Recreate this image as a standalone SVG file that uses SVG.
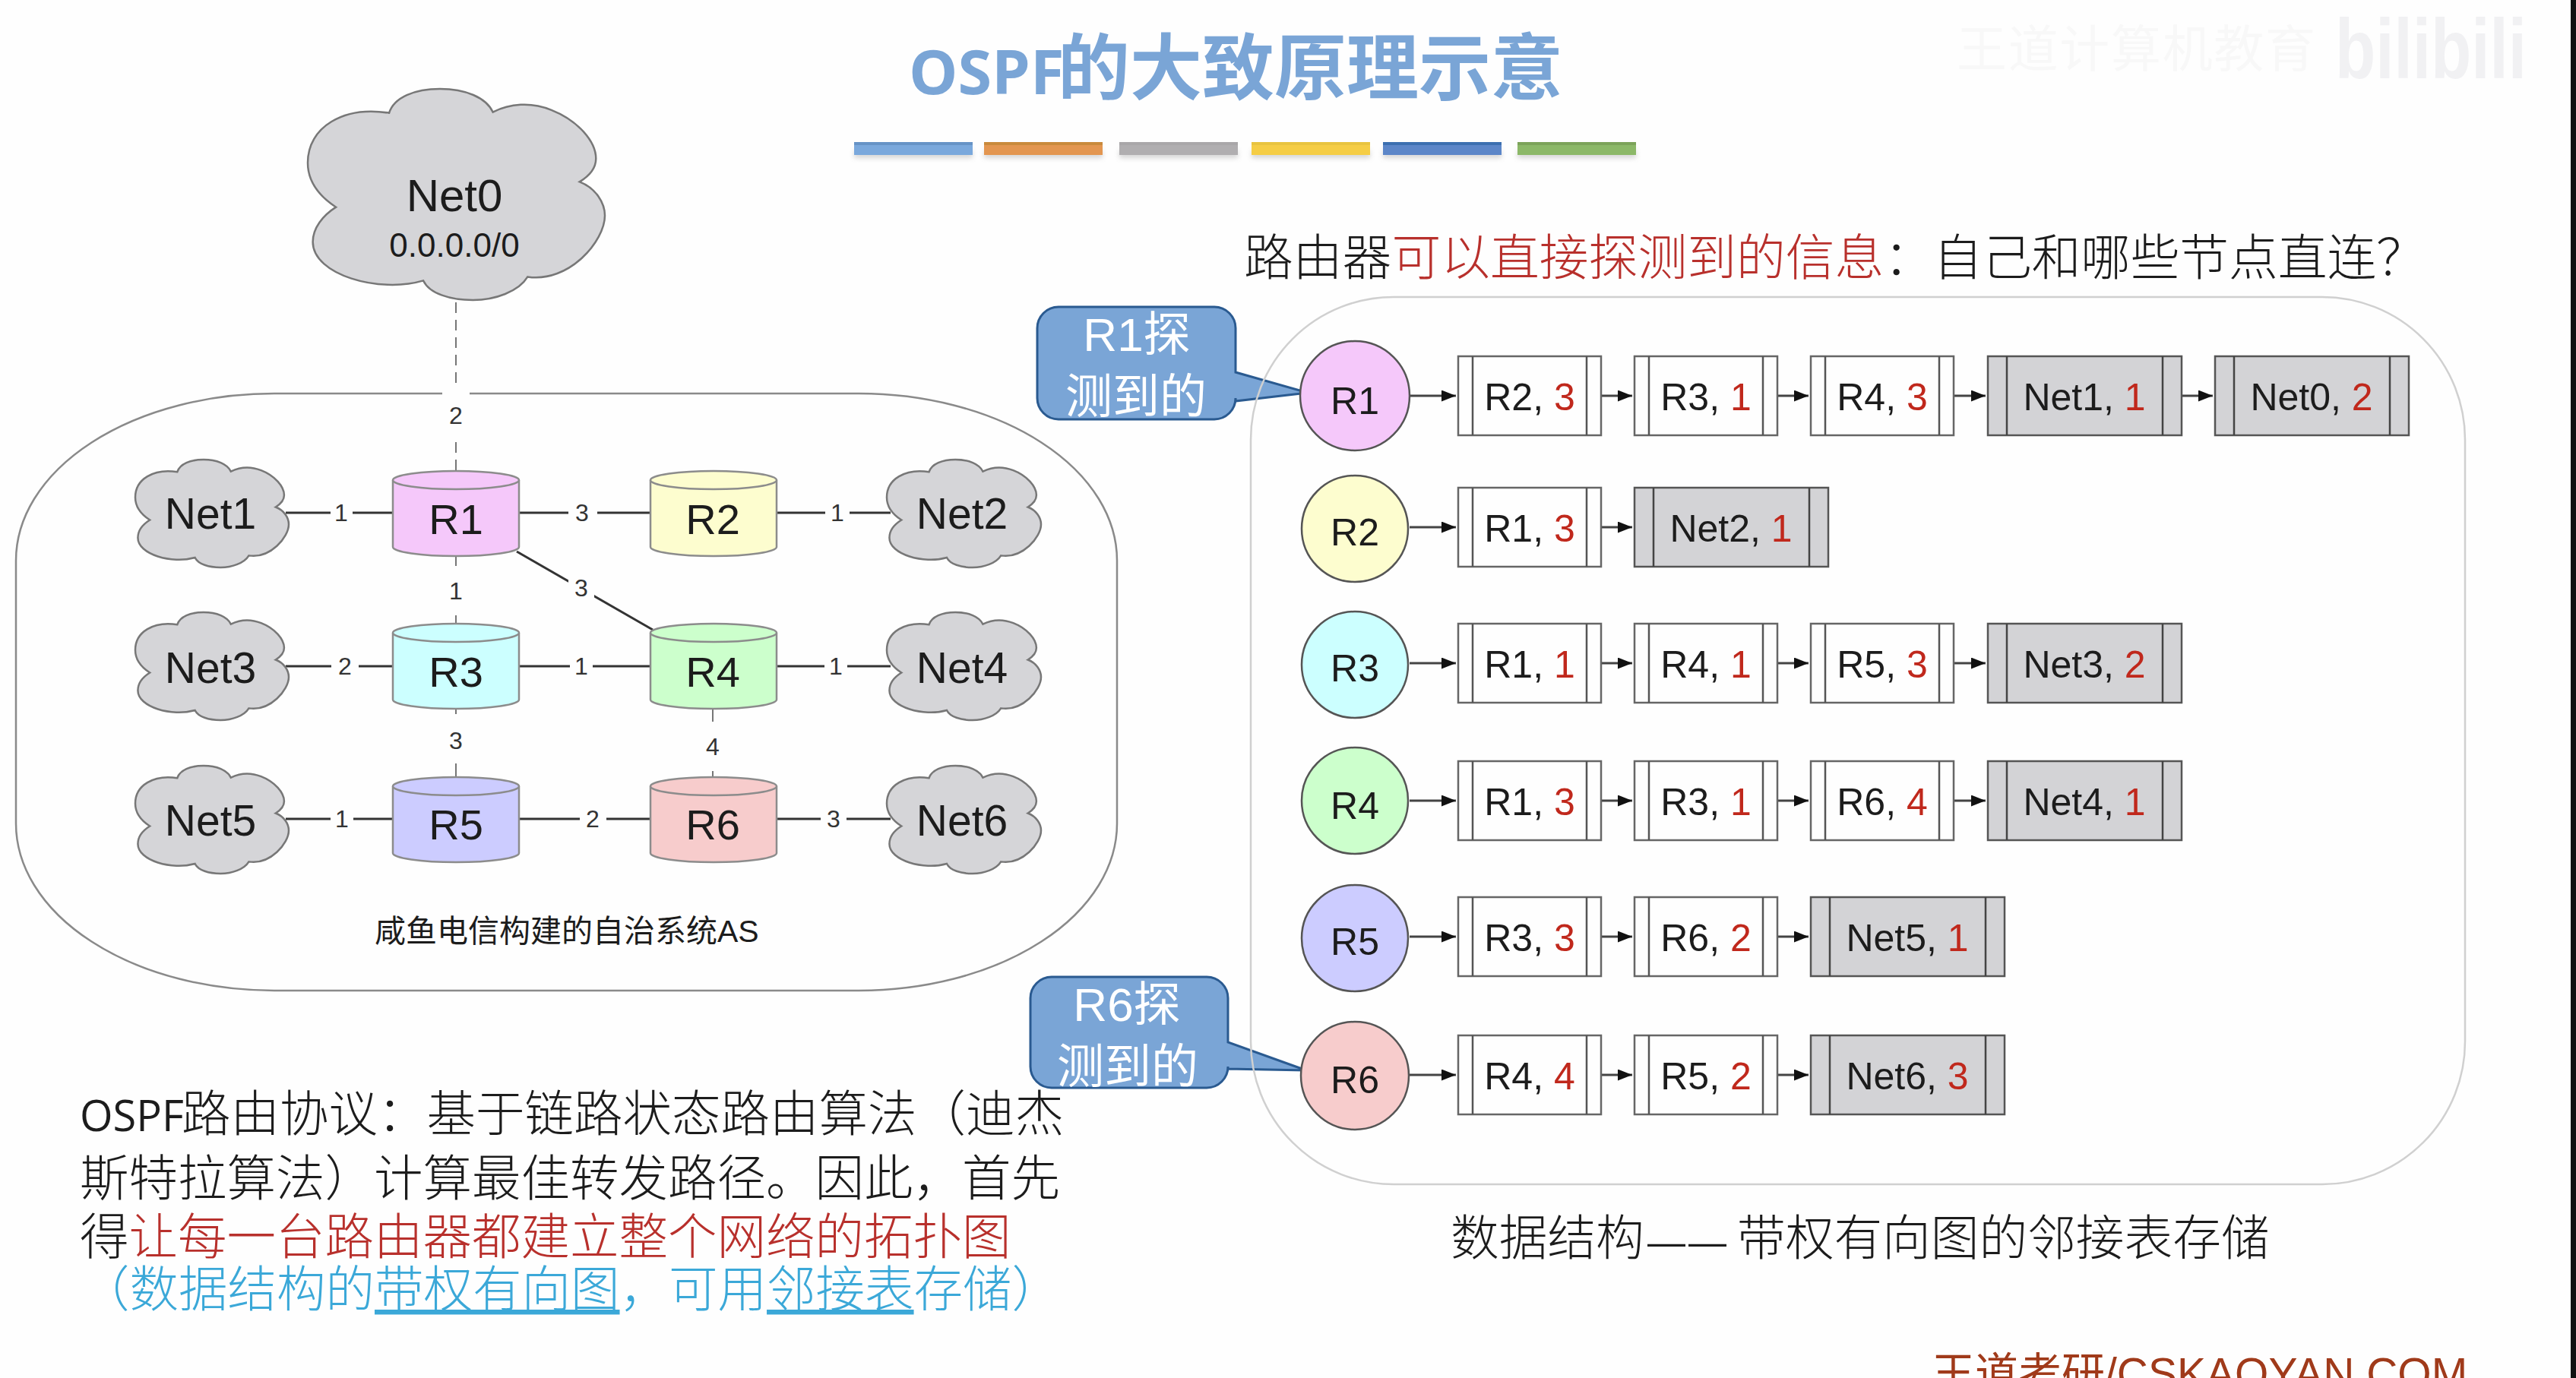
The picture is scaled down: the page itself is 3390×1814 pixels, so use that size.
<svg xmlns="http://www.w3.org/2000/svg" width="3390" height="1814" viewBox="0 0 3390 1814">
<style>
text{font-family:"Liberation Sans","Noto Sans CJK SC",sans-serif;fill:#1c1c1c}
.cloud{fill:#d5d5d8;stroke:#777;stroke-width:2.5}
.cy{stroke:#8c8c8c;stroke-width:2.5}
.net{font-size:57px;text-anchor:middle}
.rt{font-size:56px;text-anchor:middle}
.ct{font-size:50px;text-anchor:middle}
.lb{font-size:50px;text-anchor:middle}
.red{fill:#c0281c}
.el{font-size:32px;text-anchor:middle;fill:#333}
.gap{fill:#fefefe}
.link{stroke:#333;stroke-width:3;fill:none}
.thin{stroke:#555;stroke-width:1.6;fill:none}
.arr{stroke:#444;stroke-width:3;fill:none;marker-end:url(#ah)}
.circ{stroke:#555;stroke-width:2.5}
.wb{fill:#fefefe;stroke:#666;stroke-width:2.5}
.gb{fill:#d3d3d6;stroke:#555;stroke-width:2.5}
.call{fill:#7aa5d6;stroke:#2a5a90;stroke-width:3}
.callt{fill:#fff;font-size:62px;text-anchor:middle}
.body{font-size:64.5px;font-weight:300}
.r2{fill:#b8302c}
.b2{fill:#3ba8d8}
.head{font-size:64.8px;font-weight:300}
.wm{fill:#f8f8f8}
.wb2{fill:#f1f1f3}
.sh{fill:#999;opacity:.4;filter:url(#soft)}
</style>
<defs>
<filter id="soft" x="-10%" y="-60%" width="120%" height="220%"><feGaussianBlur stdDeviation="3"/></filter>
<marker id="ah" markerUnits="userSpaceOnUse" markerWidth="20" markerHeight="16" refX="19" refY="7.5" orient="auto"><path d="M0 0L19 7.5L0 15Z" fill="#111"/></marker>
<path id="cl" vector-effect="non-scaling-stroke" d="M27.4 11.4C29 4 36 0 44.5 0C53 0 60 4 62.3 11C68 7 75 6 82 10C91 15 97 25 97 33C97 37 95 41 91.5 44C97 47 100 54 100 60C100 72 88 92 74 89C71 96 63 100 55.6 100C48 100 41 97 38.9 90.8C24 97 1.7 88 1.7 72.5C1.7 66 5 60 9.5 56C3 50 0 43 0 35C0 18 12 8 27.4 11.4Z"/>
<g id="cyl"><path d="M0 12V100A83 12 0 0 0 166 100V12"/><ellipse cx="83" cy="12" rx="83" ry="12"/></g>
<g id="wbox"><rect class="wb" width="188" height="104"/><path d="M19 0V104M169 0V104" stroke="#555" stroke-width="2.5"/></g>
<g id="gbox"><rect class="gb" width="255" height="104"/><path d="M25 0V104M230 0V104" stroke="#444" stroke-width="2.5"/></g>
</defs>
<rect width="3390" height="1814" fill="#fefefe"/>
<rect x="3383" width="7" height="1814" fill="#111"/>

<g id="watermark">
<text x="2575" y="88" font-size="66" class="wm" textLength="472">王道计算机教育</text>
<text x="3073" y="103" font-size="112" font-weight="700" class="wb2" textLength="252" lengthAdjust="spacingAndGlyphs">bilibili</text>
</g>

<g id="title">
<text y="124" font-weight="700"><tspan x="1196" style="font-family:'Open Sans',sans-serif;font-size:81px;fill:#7aa5d6">OSPF</tspan><tspan x="1392" style="font-family:'Noto Sans CJK SC',sans-serif;font-size:95px;fill:#7aa5d6">的大致原理示意</tspan></text>
<g id="bars">
<rect class="sh" x="1124" y="198" width="156" height="10"/><rect class="sh" x="1295" y="198" width="156" height="10"/><rect class="sh" x="1473" y="198" width="156" height="10"/><rect class="sh" x="1647" y="198" width="156" height="10"/><rect class="sh" x="1820" y="198" width="156" height="10"/><rect class="sh" x="1997" y="198" width="156" height="10"/>
<rect x="1124" y="187" width="156" height="17" fill="#7aa8dc"/><rect x="1295" y="187" width="156" height="17" fill="#e39650"/><rect x="1473" y="187" width="156" height="17" fill="#b0aeb0"/><rect x="1647" y="187" width="156" height="17" fill="#f5cd45"/><rect x="1820" y="187" width="156" height="17" fill="#5c86c8"/><rect x="1997" y="187" width="156" height="17" fill="#8cb868"/>
<rect x="1124" y="187" width="156" height="4" fill="#6693c6"/><rect x="1295" y="187" width="156" height="4" fill="#c98a3c"/><rect x="1473" y="187" width="156" height="4" fill="#a9a7a9"/><rect x="1647" y="187" width="156" height="4" fill="#e8c440"/><rect x="1820" y="187" width="156" height="4" fill="#3c6fb0"/><rect x="1997" y="187" width="156" height="4" fill="#7ca35a"/>
</g>
</g>

<rect id="as-border" x="21" y="518" width="1449" height="786" rx="340" ry="220" fill="none" stroke="#8a8a8a" stroke-width="2.5"/>

<g id="connectors">
<path class="thin" d="M600 398V620" stroke-dasharray="14 9"/>
<rect class="gap" x="582" y="512" width="36" height="66"/>
<text class="el" x="600" y="558">2</text>
<path class="link" d="M376 675H517M683 675H856M1022 675H1172"/>
<path class="thin" d="M600 732V821M600 933V1023M938 933V1023"/>
<path class="link" d="M680 726L859 829"/>
<path class="link" d="M376 877H517M683 877H856M1022 877H1172M376 1078H517M683 1078H856M1022 1078H1172"/>
<rect class="gap" x="435" y="660" width="29" height="30"/><text class="el" x="449" y="686">1</text>
<rect class="gap" x="748" y="660" width="38" height="30"/><text class="el" x="766" y="686">3</text>
<rect class="gap" x="1086" y="660" width="32" height="30"/><text class="el" x="1102" y="686">1</text>
<rect class="gap" x="436" y="862" width="36" height="30"/><text class="el" x="454" y="888">2</text>
<rect class="gap" x="750" y="862" width="30" height="30"/><text class="el" x="765" y="888">1</text>
<rect class="gap" x="1085" y="862" width="30" height="30"/><text class="el" x="1100" y="888">1</text>
<rect class="gap" x="435" y="1063" width="30" height="30"/><text class="el" x="450" y="1089">1</text>
<rect class="gap" x="763" y="1063" width="35" height="30"/><text class="el" x="780" y="1089">2</text>
<rect class="gap" x="1080" y="1063" width="34" height="30"/><text class="el" x="1097" y="1089">3</text>
<rect class="gap" x="590" y="745" width="20" height="65"/><text class="el" x="600" y="789">1</text>
<rect class="gap" x="590" y="940" width="20" height="65"/><text class="el" x="600" y="986">3</text>
<rect class="gap" x="928" y="950" width="20" height="65"/><text class="el" x="938" y="994">4</text>
<rect class="gap" x="748" y="752" width="34" height="44"/><text class="el" x="765" y="785">3</text>
<path class="arr" d="M1855 521H1916"/><path class="arr" d="M2107 521H2148"/><path class="arr" d="M2339 521H2380"/><path class="arr" d="M2571 521H2613"/><path class="arr" d="M2871 521H2912"/>
<path class="arr" d="M1855 694H1916"/><path class="arr" d="M2107 694H2148"/>
<path class="arr" d="M1855 873H1916"/><path class="arr" d="M2107 873H2148"/><path class="arr" d="M2339 873H2380"/><path class="arr" d="M2571 873H2613"/>
<path class="arr" d="M1855 1054H1916"/><path class="arr" d="M2107 1054H2148"/><path class="arr" d="M2339 1054H2380"/><path class="arr" d="M2571 1054H2613"/>
<path class="arr" d="M1855 1233H1916"/><path class="arr" d="M2107 1233H2148"/><path class="arr" d="M2339 1233H2380"/>
<path class="arr" d="M1855 1415H1916"/><path class="arr" d="M2107 1415H2148"/><path class="arr" d="M2339 1415H2380"/>
</g>

<g id="Net0"><use href="#cl" class="cloud" transform="translate(405 117) scale(3.91 2.78)"/><text x="598" y="278" font-size="60" text-anchor="middle">Net0</text><text x="598" y="338" font-size="44" text-anchor="middle">0.0.0.0/0</text></g>
<g id="Net1"><use href="#cl" class="cloud" transform="translate(178 605) scale(2.02 1.42)"/><text class="net" x="277" y="696">Net1</text></g>
<g id="Net2"><use href="#cl" class="cloud" transform="translate(1167 605) scale(2.03 1.42)"/><text class="net" x="1266" y="696">Net2</text></g>
<g id="Net3"><use href="#cl" class="cloud" transform="translate(178 806) scale(2.02 1.42)"/><text class="net" x="277" y="899">Net3</text></g>
<g id="Net4"><use href="#cl" class="cloud" transform="translate(1167 806) scale(2.03 1.42)"/><text class="net" x="1266" y="899">Net4</text></g>
<g id="Net5"><use href="#cl" class="cloud" transform="translate(178 1008) scale(2.02 1.42)"/><text class="net" x="277" y="1100">Net5</text></g>
<g id="Net6"><use href="#cl" class="cloud" transform="translate(1167 1008) scale(2.03 1.42)"/><text class="net" x="1266" y="1100">Net6</text></g>

<g id="cyl-R1"><use href="#cyl" class="cy" x="517" y="620" fill="#f5c8fa"/><text class="rt" x="600" y="703">R1</text></g>
<g id="cyl-R2"><use href="#cyl" class="cy" x="856" y="620" fill="#fdfdcf"/><text class="rt" x="938" y="703">R2</text></g>
<g id="cyl-R3"><use href="#cyl" class="cy" x="517" y="821" fill="#ccffff"/><text class="rt" x="600" y="904">R3</text></g>
<g id="cyl-R4"><use href="#cyl" class="cy" x="856" y="821" fill="#ccffcc"/><text class="rt" x="938" y="904">R4</text></g>
<g id="cyl-R5"><use href="#cyl" class="cy" x="517" y="1023" fill="#ccccff"/><text class="rt" x="600" y="1105">R5</text></g>
<g id="cyl-R6"><use href="#cyl" class="cy" x="856" y="1023" fill="#f7cccc"/><text class="rt" x="938" y="1105">R6</text></g>

<text id="as-caption" x="493" y="1240" font-size="41">咸鱼电信构建的自治系统AS</text>

<g id="explain">
<text class="body" y="1489"><tspan x="105" style="font-family:'Open Sans',sans-serif;font-size:56px;font-weight:400">OSPF</tspan><tspan x="239">路由协议：基于链路状态路由算法（迪杰</tspan></text>
<text class="body" x="105" y="1574">斯特拉算法）计算最佳转发路径。因此，首先</text>
<text class="body" x="105" y="1651">得<tspan class="r2">让每一台路由器都建立整个网络的拓扑图</tspan></text>
<text class="body b2" x="106" y="1720">（数据结构的<tspan class="b2" text-decoration="underline">带权有向图</tspan>，可用<tspan class="b2" text-decoration="underline">邻接表</tspan>存储）</text>
</g>

<text id="panel-head" class="head" x="1637" y="362">路由器<tspan class="r2">可以直接探测到的信息</tspan>：自己和哪些节点直连？</text>

<g id="callout-R1"><path class="call" d="M1393 404H1598A28 28 0 0 1 1626 432V490L1721 517L1626 528V524A28 28 0 0 1 1598 552H1393A28 28 0 0 1 1365 524V432A28 28 0 0 1 1393 404Z"/><text class="callt" x="1496" y="462">R1探</text><text class="callt" x="1495" y="544">测到的</text></g>
<g id="callout-R6"><path class="call" d="M1384 1286H1588A28 28 0 0 1 1616 1314V1372L1719 1409L1616 1407V1404A28 28 0 0 1 1588 1432H1384A28 28 0 0 1 1356 1404V1314A28 28 0 0 1 1384 1286Z"/><text class="callt" x="1483" y="1344">R6探</text><text class="callt" x="1484" y="1426">测到的</text></g>

<rect id="panel-border" x="1646" y="391" width="1598" height="1168" rx="188" ry="188" fill="none" stroke="#d0d0d0" stroke-width="2.5"/>

<g id="R1"><circle class="circ" cx="1783" cy="521" r="72" fill="#f5c8fa"/><text class="ct" x="1783" y="545">R1</text></g>
<g id="R2"><circle class="circ" cx="1783" cy="696" r="70" fill="#fdfdcf"/><text class="ct" x="1783" y="718">R2</text></g>
<g id="R3"><circle class="circ" cx="1783" cy="875" r="70" fill="#ccffff"/><text class="ct" x="1783" y="897">R3</text></g>
<g id="R4"><circle class="circ" cx="1783" cy="1054" r="70" fill="#ccffcc"/><text class="ct" x="1783" y="1078">R4</text></g>
<g id="R5"><circle class="circ" cx="1783" cy="1235" r="70" fill="#ccccff"/><text class="ct" x="1783" y="1257">R5</text></g>
<g id="R6"><circle class="circ" cx="1783" cy="1416" r="71" fill="#f7cccc"/><text class="ct" x="1783" y="1439">R6</text></g>

<g id="list-R1">
<use href="#wbox" x="1919" y="469"/><text class="lb" x="2013" y="540">R2, <tspan class="red">3</tspan></text>
<use href="#wbox" x="2151" y="469"/><text class="lb" x="2245" y="540">R3, <tspan class="red">1</tspan></text>
<use href="#wbox" x="2383" y="469"/><text class="lb" x="2477" y="540">R4, <tspan class="red">3</tspan></text>
<use href="#gbox" x="2616" y="469"/><text class="lb" x="2743" y="540">Net1, <tspan class="red">1</tspan></text>
<use href="#gbox" x="2915" y="469"/><text class="lb" x="3042" y="540">Net0, <tspan class="red">2</tspan></text>
</g>
<g id="list-R2">
<use href="#wbox" x="1919" y="642"/><text class="lb" x="2013" y="713">R1, <tspan class="red">3</tspan></text>
<use href="#gbox" x="2151" y="642"/><text class="lb" x="2278" y="713">Net2, <tspan class="red">1</tspan></text>
</g>
<g id="list-R3">
<use href="#wbox" x="1919" y="821"/><text class="lb" x="2013" y="892">R1, <tspan class="red">1</tspan></text>
<use href="#wbox" x="2151" y="821"/><text class="lb" x="2245" y="892">R4, <tspan class="red">1</tspan></text>
<use href="#wbox" x="2383" y="821"/><text class="lb" x="2477" y="892">R5, <tspan class="red">3</tspan></text>
<use href="#gbox" x="2616" y="821"/><text class="lb" x="2743" y="892">Net3, <tspan class="red">2</tspan></text>
</g>
<g id="list-R4">
<use href="#wbox" x="1919" y="1002"/><text class="lb" x="2013" y="1073">R1, <tspan class="red">3</tspan></text>
<use href="#wbox" x="2151" y="1002"/><text class="lb" x="2245" y="1073">R3, <tspan class="red">1</tspan></text>
<use href="#wbox" x="2383" y="1002"/><text class="lb" x="2477" y="1073">R6, <tspan class="red">4</tspan></text>
<use href="#gbox" x="2616" y="1002"/><text class="lb" x="2743" y="1073">Net4, <tspan class="red">1</tspan></text>
</g>
<g id="list-R5">
<use href="#wbox" x="1919" y="1181"/><text class="lb" x="2013" y="1252">R3, <tspan class="red">3</tspan></text>
<use href="#wbox" x="2151" y="1181"/><text class="lb" x="2245" y="1252">R6, <tspan class="red">2</tspan></text>
<use href="#gbox" x="2383" y="1181"/><text class="lb" x="2510" y="1252">Net5, <tspan class="red">1</tspan></text>
</g>
<g id="list-R6">
<use href="#wbox" x="1919" y="1363"/><text class="lb" x="2013" y="1434">R4, <tspan class="red">4</tspan></text>
<use href="#wbox" x="2151" y="1363"/><text class="lb" x="2245" y="1434">R5, <tspan class="red">2</tspan></text>
<use href="#gbox" x="2383" y="1363"/><text class="lb" x="2510" y="1434">Net6, <tspan class="red">3</tspan></text>
</g>

<text id="ds-caption" class="head" y="1652" style="font-size:63.7px"><tspan x="1909">数据结构</tspan><tspan x="2168" style="font-size:50px">—</tspan><tspan x="2222" style="font-size:50px">—</tspan><tspan x="2286">带权有向图的邻接表存储</tspan></text>
<text id="site" x="2542" y="1828" font-size="57" style="fill:#a03a1a">王道考研/CSKAOYAN.COM</text>
</svg>
